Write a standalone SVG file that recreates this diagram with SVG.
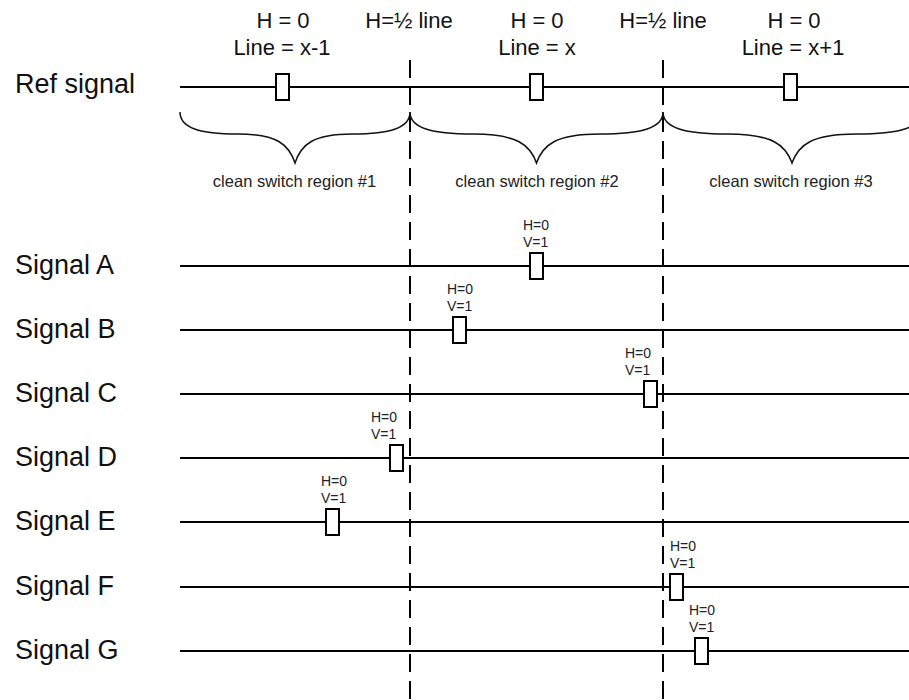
<svg xmlns="http://www.w3.org/2000/svg" width="909" height="700" viewBox="0 0 909 700">
<style>
.big{font-family:"Liberation Sans",Arial,sans-serif;font-size:27px;fill:#111}
.top{font-family:"Liberation Sans",Arial,sans-serif;font-size:22px;fill:#111;text-anchor:middle}
.reg{font-family:"Liberation Sans",Arial,sans-serif;font-size:16.5px;fill:#222;text-anchor:middle}
.sm{font-family:"Liberation Sans",Arial,sans-serif;font-size:14px;fill:#222}
.sig{stroke:#000;stroke-width:2;fill:none}
.dash{stroke:#000;stroke-width:2;stroke-dasharray:18 9;fill:none}
.brace{stroke:#111;stroke-width:1.5;fill:none}
.box{fill:#fff;stroke:#000;stroke-width:2}
</style>
<rect width="909" height="700" fill="#fff"/>
<g id="top-labels">
<text class="top" x="283" y="28">H = 0</text>
<text class="top" x="282" y="55">Line = x-1</text>
<text class="top" x="409" y="28">H=½ line</text>
<text class="top" x="537" y="28">H = 0</text>
<text class="top" x="537" y="55">Line = x</text>
<text class="top" x="663" y="28">H=½ line</text>
<text class="top" x="794" y="28">H = 0</text>
<text class="top" x="793" y="55">Line = x+1</text>
</g>
<g id="connectors">
<line class="sig" x1="180" y1="87" x2="909" y2="87"/>
<line class="sig" x1="180" y1="266" x2="909" y2="266"/>
<line class="sig" x1="180" y1="330" x2="909" y2="330"/>
<line class="sig" x1="180" y1="394" x2="909" y2="394"/>
<line class="sig" x1="180" y1="458" x2="909" y2="458"/>
<line class="sig" x1="180" y1="522" x2="909" y2="522"/>
<line class="sig" x1="180" y1="587" x2="909" y2="587"/>
<line class="sig" x1="180" y1="651" x2="909" y2="651"/>
<line class="dash" x1="410" y1="60" x2="410" y2="700"/>
<line class="dash" x1="663" y1="60" x2="663" y2="700"/>
</g>
<g id="braces">
<path class="brace" d="M180,112 C180,128 200,134 237.5,134 C278,134 289,145 295,163 C301,145 312,134 352.5,134 C390,134 410,128 410,112"/>
<path class="brace" d="M410,112 C410,128 431.5,134 473,134 C517.5,134 530.2,145 536.5,163 C542.8,145 555.5,134 600,134 C641.5,134 663,128 663,112"/>
<path class="brace" d="M663,112 C663,128 685,134 727.5,134 C772.6,134 785.5,145 792,163 C798.5,145 811.4,134 856.5,134 C899,134 921,128 921,112"/>
<text class="reg" x="294.5" y="187">clean switch region #1</text>
<text class="reg" x="537" y="187">clean switch region #2</text>
<text class="reg" x="791" y="187">clean switch region #3</text>
</g>
<g id="ref">
<text class="big" x="15" y="93">Ref signal</text>
<rect class="box" x="276" y="74" width="13" height="26"/>
<rect class="box" x="530" y="74" width="13" height="26"/>
<rect class="box" x="784" y="74" width="13" height="26"/>
</g>
<g id="signal-a">
<text class="big" x="15" y="274">Signal A</text>
<text class="sm" x="523" y="230">H=0</text>
<text class="sm" x="523" y="247">V=1</text>
<rect class="box" x="530" y="253" width="13" height="26"/>
</g>
<g id="signal-b">
<text class="big" x="15" y="338">Signal B</text>
<text class="sm" x="447" y="294">H=0</text>
<text class="sm" x="447" y="311">V=1</text>
<rect class="box" x="453" y="317" width="13" height="26"/>
</g>
<g id="signal-c">
<text class="big" x="15" y="402">Signal C</text>
<text class="sm" x="625" y="358">H=0</text>
<text class="sm" x="625" y="375">V=1</text>
<rect class="box" x="644" y="381" width="13" height="26"/>
</g>
<g id="signal-d">
<text class="big" x="15" y="466">Signal D</text>
<text class="sm" x="371" y="422">H=0</text>
<text class="sm" x="371" y="439">V=1</text>
<rect class="box" x="390" y="445" width="13" height="26"/>
</g>
<g id="signal-e">
<text class="big" x="15" y="530">Signal E</text>
<text class="sm" x="321" y="486">H=0</text>
<text class="sm" x="321" y="503">V=1</text>
<rect class="box" x="326" y="509" width="13" height="26"/>
</g>
<g id="signal-f">
<text class="big" x="15" y="595">Signal F</text>
<text class="sm" x="670" y="551">H=0</text>
<text class="sm" x="670" y="568">V=1</text>
<rect class="box" x="670" y="574" width="13" height="26"/>
</g>
<g id="signal-g">
<text class="big" x="15" y="659">Signal G</text>
<text class="sm" x="689" y="615">H=0</text>
<text class="sm" x="689" y="632">V=1</text>
<rect class="box" x="695" y="638" width="13" height="26"/>
</g>
</svg>
